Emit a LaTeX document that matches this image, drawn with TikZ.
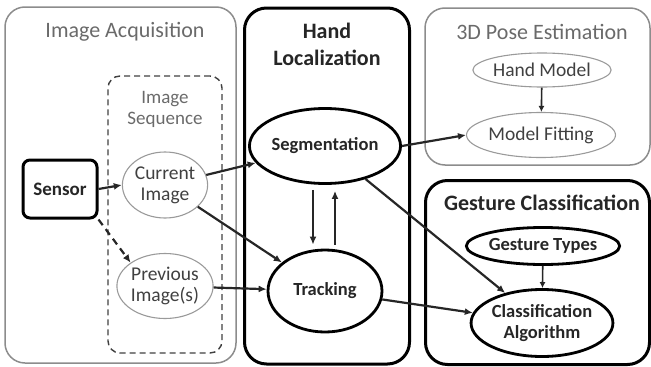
\documentclass[tikz,border=0pt]{standalone}
\usepackage{fontspec}
\setmainfont{Carlito}
\usetikzlibrary{arrows.meta,shapes.geometric}
\definecolor{boxgray}{HTML}{8C8C8C}
\definecolor{ellgray}{HTML}{9A9A9A}
\definecolor{titlegray}{HTML}{6A6A6A}
\definecolor{txtgray}{HTML}{404040}
\definecolor{txtdark}{HTML}{262626}
\begin{document}
\begin{tikzpicture}[x=1pt,y=-1pt,
  thinbox/.style={draw=boxgray, line width=1.5pt, rounded corners=20pt, rectangle, inner sep=0pt},
  thickbox/.style={draw=black, line width=3pt, rounded corners=22pt, rectangle, inner sep=0pt},
  dashbox/.style={draw=txtgray, line width=1.4pt, dashed, dash pattern=on 6pt off 4pt, rounded corners=12pt, rectangle, inner sep=0pt},
  sensorbox/.style={draw=black, line width=3pt, rounded corners=7pt, rectangle, inner sep=0pt, font=\fontsize{19}{21}\selectfont\bfseries, text=txtdark},
  grayell/.style={ellipse, draw=ellgray, line width=1.1pt, inner sep=0pt, align=center, text=txtgray, font=\fontsize{19.5}{21}\selectfont},
  blackell/.style={ellipse, draw=black, line width=2.8pt, inner sep=0pt, align=center, text=txtdark, font=\fontsize{18.5}{21}\selectfont\bfseries},
  thintitle/.style={text=titlegray, font=\fontsize{22}{24}\selectfont, align=center},
  thicktitle/.style={text=txtdark, font=\fontsize{22}{27}\selectfont\bfseries, align=center},
  arr/.style={-{Latex[length=8pt,width=7pt]}, line width=2.2pt, draw=txtdark},
  smallarr/.style={-{Latex[length=6pt,width=6pt]}, line width=1.6pt, draw=txtdark}
]
\useasboundingbox (0,0) rectangle (651,367);
% containers
\node[thinbox, minimum width=231pt, minimum height=356pt] (acq) at (120.5,185) {};
\node[dashbox, minimum width=114pt, minimum height=277pt] (seq) at (165,214.5) {};
\node[thickbox, minimum width=165pt, minimum height=356pt] (loc) at (327,186) {};
\node[thinbox, minimum width=225pt, minimum height=157pt] (pose) at (537.5,86.5) {};
\node[thickbox, minimum width=224pt, minimum height=184pt] (gest) at (537.5,272.5) {};
% titles
\node[thintitle] (acqt) at (125,32) {Image Acquisition};
\node[text=titlegray, font=\fontsize{19}{21}\selectfont, align=center] (seqt) at (165,109) {Image\\Sequence};
\node[thicktitle] (loct) at (327,44.5) {Hand\\Localization};
\node[thintitle] (poset) at (542,32) {3D Pose Estimation};
\node[thicktitle] (gestt) at (542,203) {Gesture Classification};
% nodes
\node[sensorbox, minimum width=74pt, minimum height=58pt] (sensor) at (60,189) {Sensor};
\node[grayell, minimum width=80pt, minimum height=66pt] (cur) at (165,185) {Current\\Image};
\node[grayell, minimum width=80pt, minimum height=65pt] (prev) at (165,286) {Previous\\Image(s)};
\node[blackell, minimum width=134pt, minimum height=75pt] (seg) at (325,146) {Segmentation};
\node[blackell, minimum width=114pt, minimum height=82pt] (trk) at (325,291) {Tracking};
\node[grayell, minimum width=101pt, minimum height=34pt] (hm) at (542,70) {Hand Model};
\node[grayell, minimum width=113pt, minimum height=45pt] (mf) at (541,135) {Model Fitting};
\node[blackell, minimum width=137pt, minimum height=37pt] (gt) at (543,246) {Gesture Types};
\node[blackell, minimum width=125pt, minimum height=67pt] (ca) at (542,323) {Classification\\Algorithm};
% connectors
\draw[arr] (sensor.east) -- (cur.west);
\draw[arr, dashed, dash pattern=on 7pt off 5pt] (sensor.south east) -- (prev.north west);
\draw[arr] (cur) -- (seg);
\draw[arr] (cur) -- (trk);
\draw[arr] (prev) -- (trk);
\draw[arr, shorten <=5pt, shorten >=4pt] ([xshift=-12pt]seg.south) -- ([xshift=-12pt]seg.south |- trk.north);
\draw[arr, shorten <=4pt, shorten >=6pt] ([xshift=10pt]seg.south |- trk.north) -- ([xshift=10pt]seg.south);
\draw[arr] (seg.east) -- (mf.west);
\draw[arr] (seg) -- (ca);
\draw[arr] (trk) -- (ca);
\draw[smallarr] (hm) -- (mf);
\draw[smallarr] (gt) -- (ca);
\end{tikzpicture}
\end{document}
